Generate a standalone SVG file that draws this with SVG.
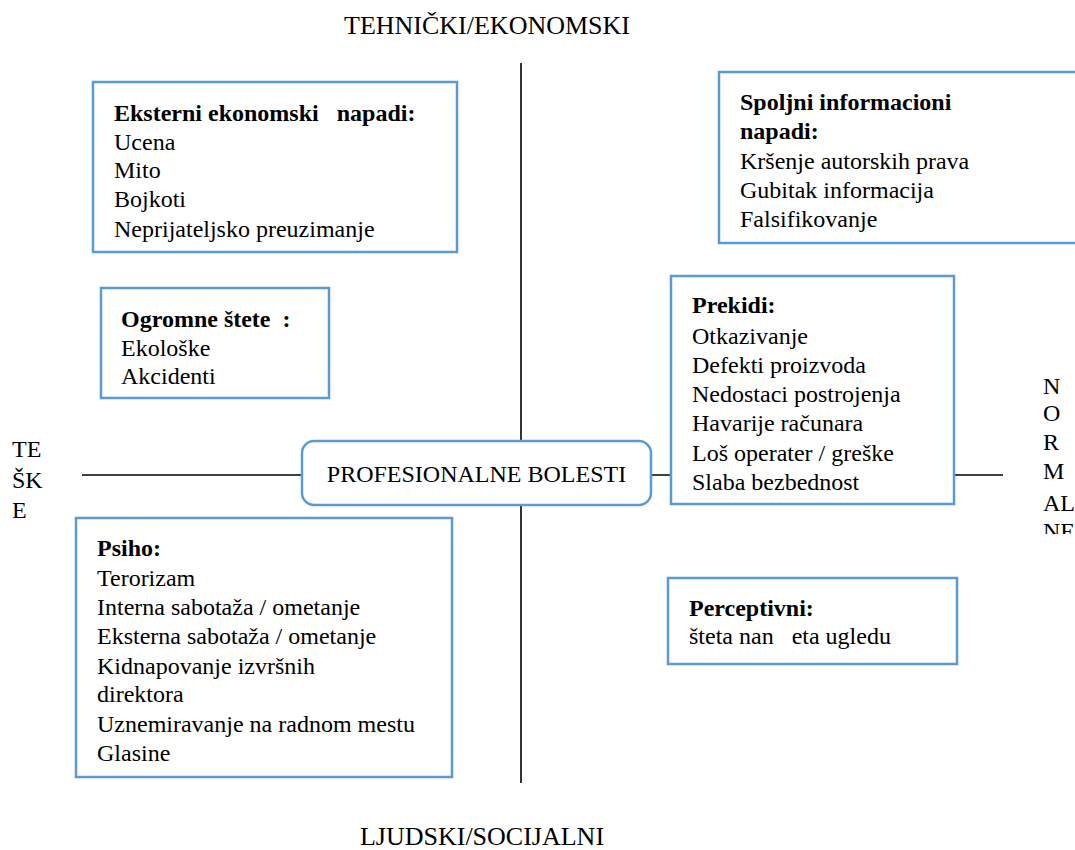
<svg xmlns="http://www.w3.org/2000/svg" width="1075" height="850" viewBox="0 0 1075 850">
<style>
text{font-family:"Liberation Serif","Times New Roman",serif;font-size:24px;fill:#000}
.b{font-weight:bold}
.ax-l{font-size:26px}
.box{fill:#fff;stroke:#5b9bd5;stroke-width:2.5}
.ax{stroke:#000;stroke-width:1.6;fill:none}
</style>
<defs><clipPath id="cl"><rect x="0" y="0" width="1075" height="534"/></clipPath></defs>
<rect width="1075" height="850" fill="#fff"/>
<g id="connectors">
<line class="ax" x1="521" y1="63" x2="521" y2="783"/>
<line class="ax" x1="82" y1="475" x2="1003" y2="475"/>
</g>
<g id="axis-labels">
<text class="ax-l" x="487" y="34" text-anchor="middle">TEHNIČKI/EKONOMSKI</text>
<text class="ax-l" x="482" y="845" text-anchor="middle">LJUDSKI/SOCIJALNI</text>
<text x="12" y="457">TE</text>
<text x="12" y="488">ŠK</text>
<text x="12" y="518">E</text>
<g clip-path="url(#cl)">
<text x="1043" y="394">N</text>
<text x="1043" y="421">O</text>
<text x="1043" y="450">R</text>
<text x="1043" y="479">M</text>
<text x="1043" y="511">AL</text>
<text x="1043" y="539">NE</text>
</g>
</g>
<g id="center">
<rect class="box" x="302" y="441" width="349" height="64" rx="12"/>
<text x="476.5" y="482" text-anchor="middle">PROFESIONALNE BOLESTI</text>
</g>
<g id="eksterni">
<rect class="box" x="93" y="82" width="364" height="170"/>
<text x="114" y="121" class="b" xml:space="preserve">Eksterni ekonomski   napadi:</text>
<text x="114" y="150">Ucena</text>
<text x="114" y="178">Mito</text>
<text x="114" y="207">Bojkoti</text>
<text x="114" y="237">Neprijateljsko preuzimanje</text>
</g>
<g id="spoljni">
<rect class="box" x="719" y="72" width="370" height="171"/>
<text x="740" y="110" class="b">Spoljni informacioni</text>
<text x="740" y="139" class="b">napadi:</text>
<text x="740" y="169">Kršenje autorskih prava</text>
<text x="740" y="198">Gubitak informacija</text>
<text x="740" y="227">Falsifikovanje</text>
</g>
<g id="ogromne">
<rect class="box" x="101" y="288" width="228" height="110"/>
<text x="121" y="327" class="b" xml:space="preserve">Ogromne štete  :</text>
<text x="121" y="356">Ekološke</text>
<text x="121" y="384">Akcidenti</text>
</g>
<g id="prekidi">
<rect class="box" x="671" y="276" width="283" height="228"/>
<text x="692" y="313" class="b">Prekidi:</text>
<text x="692" y="344">Otkazivanje</text>
<text x="692" y="373">Defekti proizvoda</text>
<text x="692" y="402">Nedostaci postrojenja</text>
<text x="692" y="431">Havarije računara</text>
<text x="692" y="461">Loš operater / greške</text>
<text x="692" y="490">Slaba bezbednost</text>
</g>
<g id="psiho">
<rect class="box" x="76" y="518" width="376" height="259"/>
<text x="97" y="556" class="b">Psiho:</text>
<text x="97" y="586">Terorizam</text>
<text x="97" y="615">Interna sabotaža / ometanje</text>
<text x="97" y="644">Eksterna sabotaža / ometanje</text>
<text x="97" y="674">Kidnapovanje izvršnih</text>
<text x="97" y="702">direktora</text>
<text x="97" y="732">Uznemiravanje na radnom mestu</text>
<text x="97" y="761">Glasine</text>
</g>
<g id="perceptivni">
<rect class="box" x="668" y="578" width="289" height="86"/>
<text x="689" y="616" class="b">Perceptivni:</text>
<text x="689" y="644" xml:space="preserve">šteta nan   eta ugledu</text>
</g>
</svg>
